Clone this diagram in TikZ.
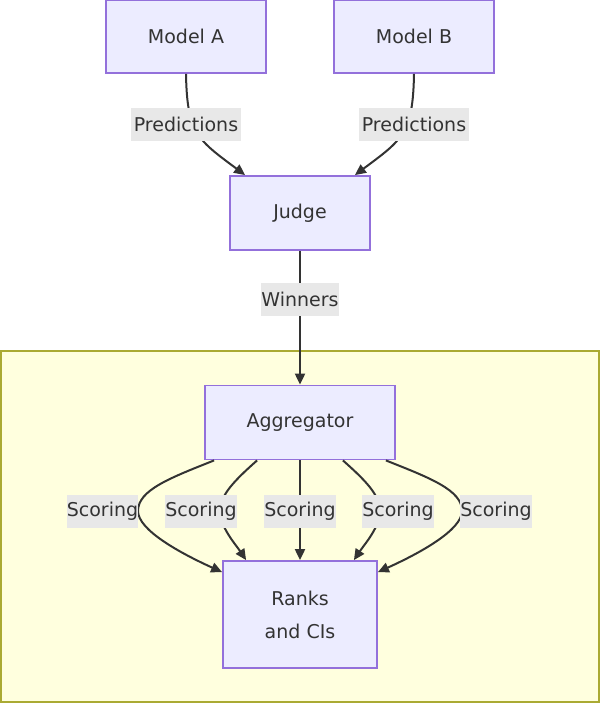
\documentclass[tikz,border=0pt]{standalone}
\usepackage{fontspec}
\setmainfont{DejaVu Sans}
\usetikzlibrary{arrows.meta,calc}
\definecolor{nodefill}{HTML}{ECECFF}
\definecolor{nodeline}{HTML}{9370DB}
\definecolor{txt}{HTML}{333333}
\definecolor{lblbg}{HTML}{E8E8E8}
\definecolor{clfill}{HTML}{FFFFDE}
\definecolor{clline}{HTML}{AAAA33}
\tikzset{
  box/.style={draw=nodeline, fill=nodefill, line width=1.8pt, text=txt, inner sep=0pt, align=center,
    font=\fontsize{19}{33}\selectfont},
  lbl/.style={fill=lblbg, text=txt, inner sep=0pt, minimum height=33pt,
    font=\fontsize{19}{23}\selectfont},
  edge/.style={draw=txt, line width=2pt, -{Triangle[length=11pt,width=10pt]}},
}
\begin{document}
\begin{tikzpicture}[x=1pt,y=-1pt]
\useasboundingbox (0,0) rectangle (600,703);
% cluster
\draw[fill=clfill, draw=clline, line width=1.8pt] (0.9,351) rectangle (599.1,702.1);

% nodes
\node[box, minimum width=160pt, minimum height=73pt] (ma) at (186,36.5) {Model A};
\node[box, minimum width=160pt, minimum height=73pt] (mb) at (414,36.5) {Model B};
\node[box, minimum width=140pt, minimum height=74pt] (ju) at (300,213) {Judge};
\node[box, minimum width=190pt, minimum height=74pt] (ag) at (300,422.5) {Aggregator};
\node[box, minimum width=154pt, minimum height=107pt] (rk) at (300,614.5) {Ranks\\and CIs};

% edges
\draw[edge] (ma.south) .. controls ($(ma.south)+(1,60)$) and ($(ma.south)+(12,66)$) .. ($(ju.north west)+(16,0)$);
\draw[edge] (mb.south) .. controls ($(mb.south)+(-1,60)$) and ($(mb.south)+(-12,66)$) .. ($(ju.north east)+(-16,0)$);
\draw[edge] (ju.south) -- (ag.north);

\draw[edge] ($(ag.south west)+(10,0)$) .. controls (170,478) and (138,490) .. (138,511)
  .. controls (138,530) and (180,553) .. ($(rk.north west)+(0,12)$);
\draw[edge] ($(ag.south west)+(53,0)$) .. controls (235,480) and (220,495) .. (220,511)
  .. controls (220,527) and (236,545) .. ($(rk.north west)+(24,0)$);
\draw[edge] (ag.south) -- (rk.north);
\draw[edge] ($(ag.south east)+(-53,0)$) .. controls (365,480) and (380,495) .. (380,511)
  .. controls (380,527) and (364,545) .. ($(rk.north east)+(-24,0)$);
\draw[edge] ($(ag.south east)+(-10,0)$) .. controls (430,478) and (462,490) .. (462,511)
  .. controls (462,530) and (420,553) .. ($(rk.north east)+(0,12)$);

% labels
\node[lbl, minimum width=110pt] (p1) at (186,124.5) {Predictions};
\node[lbl, minimum width=110pt] (p2) at (414,124.5) {Predictions};
\node[lbl, minimum width=78pt] (w) at (300,299.5) {Winners};
\node[lbl, minimum width=71pt] (s1) at (102.5,511) {Scoring};
\node[lbl, minimum width=71pt] (s2) at (201,511) {Scoring};
\node[lbl, minimum width=71pt] (s3) at (300,511) {Scoring};
\node[lbl, minimum width=71pt] (s4) at (398,511) {Scoring};
\node[lbl, minimum width=71pt] (s5) at (496,511) {Scoring};
\end{tikzpicture}
\end{document}
